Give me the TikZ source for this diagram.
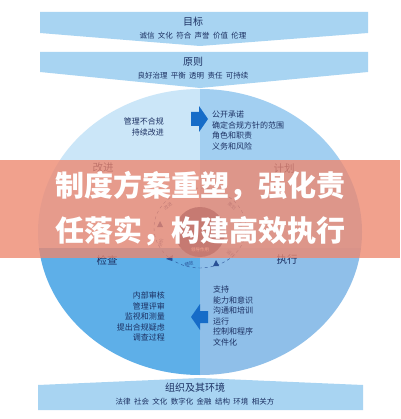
\documentclass[tikz,border=0pt]{standalone}
\usepackage{fontspec}
\newfontfamily\cjk{Noto Sans CJK SC}
\usetikzlibrary{positioning}

\definecolor{bannerblue}{RGB}{168,212,242}
\definecolor{actcol}{RGB}{203,230,248}
\definecolor{plancol}{RGB}{162,207,241}
\definecolor{checkcol}{RGB}{94,175,232}
\definecolor{docol}{RGB}{143,191,233}
\definecolor{navy}{RGB}{28,48,98}
\definecolor{arrowblue}{RGB}{22,108,200}
\definecolor{salmon}{RGB}{238,135,110}
\definecolor{corecol}{RGB}{60,80,130}
\definecolor{ringcol}{RGB}{40,80,150}

\begin{document}
\begin{tikzpicture}[
            x=1pt, y=-1pt,
            banner/.style={fill=bannerblue, draw=none},
            title/.style={font=\cjk\fontsize{10}{12}\selectfont, text=navy, inner sep=0pt},
            keywords/.style={font=\cjk\fontsize{7.5}{9}\selectfont, text=navy, inner sep=0pt},
            stage/.style={font=\cjk\fontsize{10.5}{12}\selectfont, text=navy, inner sep=0pt},
            itemlist/.style={font=\cjk\fontsize{8}{10.5}\selectfont, text=navy, inner sep=0pt},
            ringlabel/.style={font=\cjk\fontsize{4.5}{5}\selectfont, text=ringcol, inner sep=0pt},
            headline/.style={font=\cjk\bfseries\fontsize{29}{45}\selectfont, text=white, inner sep=0pt, align=center}
          ]

          % Page
          \useasboundingbox (0,0) rectangle (400,419);
          \fill[white] (0,0) rectangle (400,419);

          % PDCA wheel, four quarters
          \begin{scope}
            \clip (200,232) ellipse [x radius=162, y radius=143];
            \fill[actcol]   (0,0)     rectangle (200,248);
            \fill[plancol]  (200,0)   rectangle (400,248);
            \fill[checkcol] (0,248)   rectangle (200,419);
            \fill[docol]    (200,248) rectangle (400,419);
          \end{scope}

          % Banners
          \fill[banner] (40,12) -- (368,12) -- (368,33) -- (200,46) -- (40,33) -- cycle;
          \fill[banner] (40,52) -- (368,52) -- (368,72) -- (200,88) -- (40,72) -- cycle;
          \fill[banner] (38,385) -- (200,378) -- (363,385) -- (363,410) -- (38,410) -- cycle;

          \node[title] (goal) at (193,22) {目标};
          \node[keywords, below=5pt of goal] (goalwords) {诚信~~文化~~符合~~声誉~~价值~~伦理};
          \node[title] (principle) at (193,62) {原则};
          \node[keywords, below=5pt of principle] (principlewords) {良好治理~~平衡~~透明~~责任~~可持续};
          \node[title] (context) at (195,388) {组织及其环境};
          \node[keywords, below=5pt of context] (contextwords) {法律~~社会~~文化~~数字化~~金融~~结构~~环境~~相关方};

          % Quarter names
          \node[stage] (act)   at (103,168) {改进};
          \node[stage] (plan)  at (284,169) {计划};
          \node[stage] (check) at (107,260) {检查};
          \node[stage] (do)    at (287,260) {执行};

          % Quarter contents
          \node[itemlist, align=right, anchor=north east] (actlist) at (164,118) {管理不合规\\持续改进};
          \node[itemlist, align=left, anchor=north west] (planlist) at (212,111) {公开承诺\\确定合规方针的范围\\角色和职责\\义务和风险};
          \node[itemlist, align=right, anchor=north east] (checklist) at (165,292) {内部审核\\管理评审\\监视和测量\\提出合规疑虑\\调查过程};
          \node[itemlist, align=left, anchor=north west] (dolist) at (213,286) {支持\\能力和意识\\沟通和培训\\运行\\控制和程序\\文件化};

          % Block arrows
          \fill[arrowblue] (191,112) -- (199,112) -- (199,106) -- (208,119) -- (199,132) -- (199,126) -- (191,126) -- cycle;
          \fill[arrowblue] (208,311) -- (200,311) -- (200,304) -- (191,317) -- (200,330) -- (200,323) -- (208,323) -- cycle;

          % Core with ring
          \fill[corecol] (200,232) circle [radius=25];
          \draw[ringcol, dashed, thin] (200,228) ellipse [x radius=46, y radius=40];
          \node[ringlabel, rotate=40]  (ringact)   at (168,206) {改进};
          \node[ringlabel, rotate=-40] (ringplan)  at (232,206) {策划};
          \node[ringlabel, rotate=80]  (ringcheck) at (161,243) {评价};
          \node[ringlabel, rotate=-80] (ringsupp)  at (240,226) {支持};
          \node[ringlabel, rotate=-40] (ringop)    at (231,254) {运行};
          \node[ringlabel, rotate=8]   (ringperf)  at (189,264) {绩效};
          \node[ringlabel, text=white] (lead)      at (200,250) {领导作用};
          \fill[ringcol] (160,221) -- (163,227) -- (157,227) -- cycle;
          \fill[ringcol] (216,260) -- (219,266) -- (213,266) -- cycle;
          \fill[ringcol] (166,259) -- (173,255) -- (172,261) -- cycle;

          % Overlay with headline
          \fill[salmon, opacity=0.78] (0,160) rectangle (400,258);
          \node[headline] (headline) at (200,208.5) {制度方案重塑，强化责\\任落实，构建高效执行};

        \end{tikzpicture}
\end{document}
